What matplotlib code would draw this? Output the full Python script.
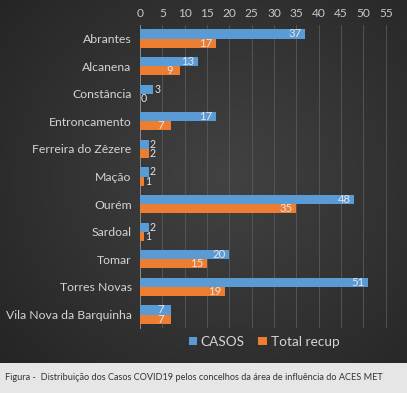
import numpy as np
import matplotlib
matplotlib.use("Agg")
import matplotlib.pyplot as plt

plt.rcParams['font.family'] = ['Lato', 'DejaVu Sans']

categories = ["Abrantes", "Alcanena", "Constância", "Entroncamento", "Ferreira do Zêzere",
              "Mação", "Ourém", "Sardoal", "Tomar", "Torres Novas", "Vila Nova da Barquinha"]
casos = [37, 13, 3, 17, 2, 2, 48, 2, 20, 51, 7]
recup = [17, 9, 0, 7, 2, 1, 35, 1, 15, 19, 7]
xticks = list(range(0, 60, 5))
series_names = ["CASOS", "Total recup"]
caption = "Figura -  Distribuição dos Casos COVID19 pelos concelhos da área de influência do ACES MET"

W, H = 407, 393
fig = plt.figure(figsize=(W / 100, H / 100), dpi=100)

# background gradient
bg = fig.add_axes([0, 0, 1, 1])
bg.set_axis_off()
yy, xx = np.mgrid[0:H, 0:W]
cx, cy = W * 0.55, H * 0.45
r = np.sqrt(((xx - cx) / W) ** 2 + ((yy - cy) / H) ** 2)
val = 0.26 - 0.12 * np.clip(r / 0.75, 0, 1)
img = np.dstack([val, val, val])
img[363:, :, :] = 0.905
bg.imshow(img, extent=[0, W, H, 0], aspect='auto', interpolation='bilinear')
bg.set_xlim(0, W)
bg.set_ylim(H, 0)
bg.text(5, 378, caption, fontsize=6.6, color='#333333', va='center', ha='left')

left = 140 / W
right = 388 / W
top = 1 - 24.7 / H
bottom = 1 - 328.3 / H
ax = fig.add_axes([left, bottom, right - left, top - bottom])
ax.patch.set_alpha(0)
y = np.arange(len(categories))
bh = 0.33
c1, c2 = '#5B9BD5', '#ED7D31'
ax.barh(y - bh / 2, casos, height=bh, color=c1, label=series_names[0], zorder=3)
ax.barh(y + bh / 2, recup, height=bh, color=c2, label=series_names[1], zorder=3)
ax.set_xlim(0, 55.5)
ax.set_ylim(len(categories) - 0.5, -0.5)
ax.set_xticks(xticks)
ax.xaxis.tick_top()
ax.tick_params(axis='x', length=0, labelsize=8.6, labelcolor='#c8c8c8', pad=4)
ax.tick_params(axis='y', length=0, labelsize=8.8, labelcolor='#d4d4d4', pad=6)
ax.set_yticks(y)
ax.set_yticklabels(categories)
ax.grid(axis='x', color='#595959', linewidth=0.6, zorder=0)
for s in ['top', 'right', 'bottom']:
    ax.spines[s].set_visible(False)
ax.spines['left'].set_color('#8a8a8a')
ax.spines['left'].set_linewidth(0.7)

for vals, off in ((casos, -bh / 2), (recup, bh / 2)):
    for i, v in enumerate(vals):
        if v >= 5:
            ax.text(v - 2.3, i + off, str(v), ha='center', va='center', fontsize=8.2,
                    color='#e6e6e6', zorder=4)
        else:
            ax.text(v + 0.2, i + off, str(v), ha='left', va='center', fontsize=7.6,
                    color='#e6e6e6', zorder=4)

leg = ax.legend(loc='center', bbox_to_anchor=(0.5, -0.045), ncol=2, frameon=False,
                fontsize=9.8, handlelength=0.6, handleheight=0.6, handletextpad=0.3,
                columnspacing=1.0, labelcolor='#d4d4d4')

fig.savefig("out.png", dpi=100)
